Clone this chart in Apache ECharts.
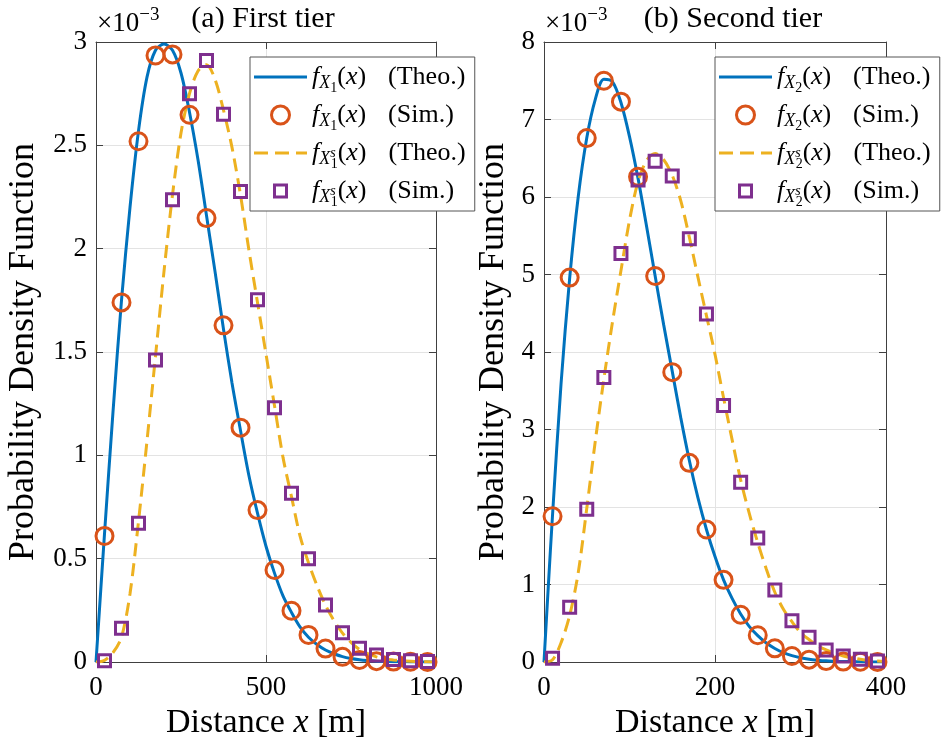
<!DOCTYPE html>
<html><head><meta charset="utf-8">
<script src="https://cdn.jsdelivr.net/npm/echarts@6/dist/echarts.min.js"></script>
<style>html,body{margin:0;padding:0;background:#fff}#c{width:952px;height:748px}</style>
</head><body><div id="c"></div>
<script>
const F = 'Liberation Serif';
// ---- Panel (a): first tier (values in units of 1e-3) ----
const xTheo1 = [0,25,50,75,100,125,150,175,200,225,250,275,300,325,350,375,400,425,450,475,500,525,550,575,600,625,650,675,700,725,750,775,800,825,850,875,900,925,950,975,1000];
const fX1Theo = [0,0.62,1.21,1.75,2.20,2.57,2.83,2.96,2.99,2.96,2.85,2.66,2.43,2.16,1.89,1.61,1.35,1.12,0.90,0.72,0.56,0.43,0.32,0.24,0.17,0.12,0.085,0.058,0.04,0.026,0.017,0.011,0.007,0.004,0.0025,0.0015,0.001,0.0005,0.0003,0.0001,0];
const fX1sTheo = [0,0.008,0.045,0.12,0.33,0.68,1.07,1.48,1.89,2.26,2.56,2.75,2.86,2.89,2.82,2.67,2.49,2.26,1.99,1.74,1.49,1.24,0.99,0.80,0.61,0.48,0.37,0.275,0.20,0.14,0.095,0.06,0.04,0.025,0.015,0.01,0.006,0.004,0.002,0.001,0];
const xSim1 = [25,75,125,175,225,275,325,375,425,475,525,575,625,675,725,775,825,875,925,975];
const fX1Sim = [0.61,1.74,2.52,2.935,2.94,2.648,2.148,1.629,1.134,0.735,0.445,0.248,0.131,0.065,0.025,0.01,0.004,0.002,0.001,0.0005];
const fX1sSim = [0.006,0.163,0.671,1.461,2.237,2.75,2.91,2.65,2.277,1.753,1.23,0.816,0.50,0.276,0.142,0.066,0.034,0.012,0.006,0.003];
// ---- Panel (b): second tier ----
const xTheo2 = [0,5,10,20,30,40,50,60,70,80,90,100,110,120,130,140,150,160,170,180,190,200,210,220,230,240,250,260,270,280,290,300,310,320,330,340,350,360,370,380,390,400];
const fX2Theo = [0,0.97,1.9,3.6,4.95,6.0,6.76,7.26,7.52,7.49,7.22,6.78,6.24,5.62,4.98,4.35,3.75,3.15,2.6,2.12,1.71,1.36,1.06,0.82,0.62,0.46,0.34,0.245,0.175,0.12,0.082,0.055,0.036,0.024,0.015,0.01,0.006,0.004,0.002,0.001,0.001,0];
const xTheo2s = [0,10,20,30,40,50,60,70,80,90,100,110,120,130,140,150,160,170,180,190,200,210,220,230,240,250,260,270,280,290,300,310,320,330,340,350,360,370,380,390,400];
const fX2sTheo = [0,0.03,0.25,0.6,1.15,1.98,2.85,3.65,4.38,5.05,5.7,6.2,6.47,6.56,6.48,6.28,5.95,5.48,4.97,4.47,3.97,3.41,2.87,2.35,1.92,1.54,1.2,0.9,0.68,0.52,0.38,0.29,0.21,0.155,0.11,0.078,0.055,0.035,0.02,0.012,0.008];
const xSim2 = [10,30,50,70,90,110,130,150,170,190,210,230,250,270,290,310,330,350,370,390];
const fX2Sim = [1.88,4.96,6.76,7.50,7.23,6.26,4.98,3.74,2.57,1.71,1.06,0.61,0.345,0.176,0.078,0.03,0.012,0.005,0.003,0.001];
const fX2sSim = [0.047,0.706,1.97,3.67,5.27,6.22,6.46,6.27,5.46,4.49,3.31,2.32,1.60,0.93,0.533,0.318,0.155,0.077,0.035,0.012];
// ---- ticks ----
const xTicks1 = [0,500,1000];
const yTicks1 = [0,0.5,1,1.5,2,2.5,3];
const xTicks2 = [0,200,400];
const yTicks2 = [0,1,2,3,4,5,6,7,8];
const titles = ['(a) First tier','(b) Second tier'];

const C = {blue:'#0072BD', orange:'#D95319', yellow:'#EDB120', purple:'#7E2F8E'};
const AX = '#404040';
const pairs = (xs, ys) => xs.map((x,i)=>[x, ys[i]]);

const grids = [{left:96, top:42, width:340, height:620},{left:544, top:42, width:342, height:620}];

function xAx(g, ticks, pos, main){
  return {type:'value', gridIndex:g, position:pos, min:ticks[0], max:ticks[ticks.length-1], interval:ticks[1]-ticks[0],
    axisLine:{show:true, onZero:false, lineStyle:{color:AX, width:1}},
    axisTick:{show:true, inside:true, length:7, lineStyle:{color:AX, width:1}},
    axisLabel:{show:main, margin:12, fontSize:27, fontFamily:F, color:'#000', formatter:v=>String(v)},
    splitLine:{show:main, lineStyle:{color:'#e3e3e3', width:1}},
    name: main ? '{n|Distance }{i|x}{n| [m]}' : '', nameLocation:'middle', nameGap:43,
    nameTextStyle:{rich:{n:{fontFamily:F, fontSize:34, color:'#000'}, i:{fontFamily:F, fontSize:34, fontStyle:'italic', color:'#000'}}}
  };
}
function yAx(g, ticks, pos, main, gap){
  return {type:'value', gridIndex:g, position:pos, min:ticks[0], max:ticks[ticks.length-1], interval:ticks[1]-ticks[0],
    axisLine:{show:true, onZero:false, lineStyle:{color:AX, width:1}},
    axisTick:{show:true, inside:true, length:7, lineStyle:{color:AX, width:1}},
    axisLabel:{show:main, margin:9, fontSize:27, fontFamily:F, color:'#000', formatter:v=>String(v)},
    splitLine:{show:main, lineStyle:{color:'#e3e3e3', width:1}},
    name: main ? 'Probability Density Function' : '', nameLocation:'middle', nameGap:gap,
    nameTextStyle:{fontFamily:F, fontSize:36, color:'#000'}
  };
}

function lineS(name, xi, xs, ys, color, dashed){
  return {name, type:'line', xAxisIndex:xi, yAxisIndex:xi, data:pairs(xs,ys), symbol:'none', smooth:0.3,
    lineStyle:{color, width:3, type: dashed ? [13,7] : 'solid', cap:'butt'}, itemStyle:{color}, z:2};
}
function simS(name, xi, xs, ys, color, sym, size){
  return {name, type:'scatter', xAxisIndex:xi, yAxisIndex:xi, data:pairs(xs,ys), symbol:sym, symbolSize:size, clip:false,
    itemStyle:{color:'rgba(0,0,0,0)', borderColor:color, borderWidth:3, opacity:1}, z:3};
}

const series = [
  lineS('a1', 0, xTheo1, fX1Theo, C.blue, false),
  simS('a2', 0, xSim1, fX1Sim, C.orange, 'circle', 17),
  lineS('a3', 0, xTheo1, fX1sTheo, C.yellow, true),
  simS('a4', 0, xSim1, fX1sSim, C.purple, 'rect', 12),
  lineS('b1', 2, xTheo2, fX2Theo, C.blue, false),
  simS('b2', 2, xSim2, fX2Sim, C.orange, 'circle', 17),
  lineS('b3', 2, xTheo2s, fX2sTheo, C.yellow, true),
  simS('b4', 2, xSim2, fX2sSim, C.purple, 'rect', 12)
];

const solidIcon = 'path://M0,0H53V3H0Z';
const dashIcon = 'path://M0,0H14V3H0Z M21,0H35V3H21Z M42,0H53V3H42Z';
const squareIcon = 'path://M0,0M18,18M3,3H15V15H3Z';

function legendData(p){
  return [
    {name:p+'1', icon:solidIcon, itemStyle:{color:C.blue, borderWidth:0}},
    {name:p+'2', icon:'circle', itemStyle:{color:'rgba(0,0,0,0)', borderColor:C.orange, borderWidth:3}},
    {name:p+'3', icon:dashIcon, itemStyle:{color:C.yellow, borderWidth:0}},
    {name:p+'4', icon:squareIcon, itemStyle:{color:'rgba(0,0,0,0)', borderColor:C.purple, borderWidth:3}}
  ];
}
const rich = {
  n:{fontFamily:F, fontSize:26, lineHeight:30, color:'#000'},
  i:{fontFamily:F, fontSize:26, lineHeight:30, fontStyle:'italic', color:'#000'},
  s1:{fontFamily:F, fontSize:18, lineHeight:30, fontStyle:'italic', color:'#000', padding:[12,0,0,0]},
  s2:{fontFamily:F, fontSize:14, lineHeight:30, color:'#000', padding:[22,0,0,0]},
  s2b:{fontFamily:F, fontSize:14, lineHeight:30, color:'#000', padding:[22,0,0,-5]},
  sup:{fontFamily:F, fontSize:14, lineHeight:30, fontStyle:'italic', color:'#000', padding:[1,0,0,0]},
  sp:{width:22}
};
function fmt(name){
  const k = name.slice(1), tier = name[0]==='a' ? '1' : '2';
  const base = (k==='1'||k==='2') ? `{i|f}{s1|X}{s2|${tier}}` : `{i|f}{s1|X}{sup|s}{s2b|${tier}}`;
  const tail = (k==='1'||k==='3') ? '(Theo.)' : '(Sim.)';
  return base + `{n|(}{i|x}{n|)}{sp| }{n|${tail}}`;
}
function legend(left, p){
  return {left, top:57, orient:'vertical', padding:[2,9,2,4], itemGap:2, itemWidth:53, itemHeight:18,
    backgroundColor:'#fff', borderColor:'#555', borderWidth:1, selectedMode:false,
    data:legendData(p), formatter:fmt, textStyle:{rich}};
}

const titleStyle = {fontFamily:F, fontSize:30, fontWeight:'normal', color:'#000'};
const expRich = {fontWeight:'normal', rich:{a:{fontFamily:F, fontSize:27, fontWeight:'normal', lineHeight:30, color:'#000'}, b:{fontFamily:F, fontSize:19, fontWeight:'normal', lineHeight:30, color:'#000', padding:[0,0,18,0]}}};

const option = {
  animation:false,
  backgroundColor:'#fff',
  grid: grids,
  title:[
    {text:titles[0], left:263, top:4, textAlign:'center', padding:0, textStyle:titleStyle},
    {text:titles[1], left:733, top:4, textAlign:'center', padding:0, textStyle:titleStyle},
    {text:'{a|×10}{b|−3}', left:97, top:9, padding:0, textStyle:expRich},
    {text:'{a|×10}{b|−3}', left:545, top:9, padding:0, textStyle:expRich}
  ],
  legend:[legend(250,'a'), legend(715,'b')],
  xAxis:[xAx(0,xTicks1,'bottom',true), xAx(0,xTicks1,'top',false), xAx(1,xTicks2,'bottom',true), xAx(1,xTicks2,'top',false)],
  yAxis:[yAx(0,yTicks1,'left',true,54), yAx(0,yTicks1,'right',false,0), yAx(1,yTicks2,'left',true,32), yAx(1,yTicks2,'right',false,0)],
  series
};
const chart = echarts.init(document.getElementById('c'), null, {renderer:'canvas'});
chart.setOption(option);
</script></body></html>
